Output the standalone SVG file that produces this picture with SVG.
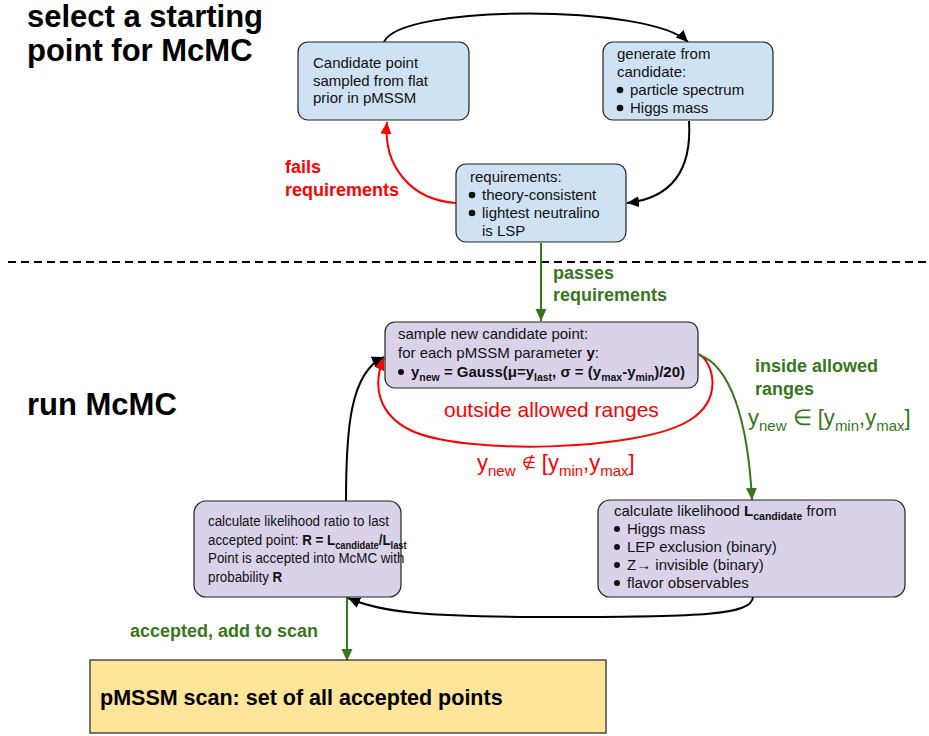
<svg xmlns="http://www.w3.org/2000/svg" width="929" height="736" viewBox="0 0 929 736">
<style>
text{font-family:"Liberation Sans",Arial,sans-serif;}
.box{stroke:#222;stroke-width:1.2;}
.blue{fill:#cfe2f3;}
.lav{fill:#d9d2e9;}
.t15{font-size:15px;fill:#111;}
.b{font-weight:bold;}
.dot{fill:#111;}
.title{font-size:31px;font-weight:bold;fill:#000;}
.red{fill:#ff0000;}
.grn{fill:#38761d;}
.sub{font-size:10.5px;}
.lbl{font-size:18px;font-weight:bold;}
.c{fill:none;stroke-width:2;}
</style>
<defs>
<marker id="ak" markerUnits="userSpaceOnUse" markerWidth="14" markerHeight="12" refX="12" refY="5.5" orient="auto"><path d="M0,0 L12,5.5 L0,11 Z" fill="#000"/></marker>
<marker id="ar" markerUnits="userSpaceOnUse" markerWidth="14" markerHeight="12" refX="12" refY="5.5" orient="auto"><path d="M0,0 L12,5.5 L0,11 Z" fill="#ff0000"/></marker>
<marker id="ag" markerUnits="userSpaceOnUse" markerWidth="14" markerHeight="12" refX="12" refY="5.5" orient="auto"><path d="M0,0 L12,5.5 L0,11 Z" fill="#38761d"/></marker>
</defs>
<rect width="929" height="736" fill="#fff"/>

<g id="titles">
<text class="title" x="27" y="27">select a starting</text>
<text class="title" x="27" y="61">point for McMC</text>
<text class="title" x="27" y="415">run McMC</text>
</g>

<line id="divider" x1="8" y1="262" x2="929" y2="262" stroke="#000" stroke-width="2" stroke-dasharray="8,5"/>

<g id="connectors">
<path class="c" stroke="#000" d="M384,42 C400,4 650,4 688,42" marker-end="url(#ak)"/>
<path class="c" stroke="#000" d="M689,121 C692,170 672,198 627,203" marker-end="url(#ak)"/>
<path class="c" stroke="#ff0000" d="M456,203 C410,200 383,165 387,122" marker-end="url(#ar)"/>
<path class="c" stroke="#38761d" d="M541,243 L541,321" marker-end="url(#ag)"/>
<path class="c" stroke="#ff0000" d="M699,354 C715,365 722,400 690,420 C640,452 460,455 410,430 C378,414 372,385 384,358" marker-end="url(#ar)"/>
<path class="c" stroke="#38761d" d="M699,355 C730,365 748,420 752,500" marker-end="url(#ag)"/>
<path class="c" stroke="#000" d="M346,501 C346,430 350,372 384,357" marker-end="url(#ak)"/>
<path class="c" stroke="#000" d="M753,597 C752,615 700,617 560,617 C420,617 380,612 348,598" marker-end="url(#ak)"/>
<path class="c" stroke="#38761d" d="M347,597 L347,661" marker-end="url(#ag)"/>
</g>

<g id="labels">
<text class="red lbl" x="285" y="173">fails</text>
<text class="red lbl" x="285" y="196">requirements</text>
<text class="grn lbl" x="553" y="279">passes</text>
<text class="grn lbl" x="553" y="301">requirements</text>
<text class="grn lbl" x="755" y="372">inside allowed</text>
<text class="grn lbl" x="755" y="395">ranges</text>
<text class="grn" x="748" y="425" font-size="22">y<tspan font-size="15" dy="6">new</tspan><tspan dy="-6"> ∈ [y</tspan><tspan font-size="15" dy="6">min</tspan><tspan dy="-6">,y</tspan><tspan font-size="15" dy="6">max</tspan><tspan dy="-6">]</tspan></text>
<text class="red" x="444" y="417" font-size="21">outside allowed ranges</text>
<text class="red" x="477" y="470" font-size="22">y<tspan font-size="15" dy="6">new</tspan><tspan dy="-6"> </tspan><tspan font-size="16" dy="-2">∉</tspan><tspan dy="2"> [y</tspan><tspan font-size="15" dy="6">min</tspan><tspan dy="-6">,y</tspan><tspan font-size="15" dy="6">max</tspan><tspan dy="-6">]</tspan></text>
<text class="grn lbl" x="130" y="637">accepted, add to scan</text>
</g>

<g id="node-candidate">
<rect class="box blue" x="298" y="42" width="171" height="78" rx="10"/>
<text class="t15" x="313" y="68">Candidate point</text>
<text class="t15" x="313" y="86">sampled from flat</text>
<text class="t15" x="313" y="103">prior in pMSSM</text>
</g>

<g id="node-generate">
<rect class="box blue" x="603" y="42" width="170" height="78" rx="10"/>
<text class="t15" x="617" y="59">generate from</text>
<text class="t15" x="617" y="77">candidate:</text>
<circle class="dot" cx="620" cy="90" r="3.3"/>
<text class="t15" x="630" y="95">particle spectrum</text>
<circle class="dot" cx="620" cy="108" r="3.3"/>
<text class="t15" x="630" y="113">Higgs mass</text>
</g>

<g id="node-requirements">
<rect class="box blue" x="456" y="164" width="170" height="78" rx="10"/>
<text class="t15" x="470" y="182">requirements:</text>
<circle class="dot" cx="472" cy="195" r="3.3"/>
<text class="t15" x="482" y="200">theory-consistent</text>
<circle class="dot" cx="472" cy="213" r="3.3"/>
<text class="t15" x="482" y="218">lightest neutralino</text>
<text class="t15" x="482" y="236">is LSP</text>
</g>

<g id="node-sample">
<rect class="box lav" x="385" y="322" width="313" height="66" rx="10"/>
<text class="t15" x="398" y="339">sample new candidate point:</text>
<text class="t15" x="398" y="358">for each pMSSM parameter <tspan class="b">y</tspan>:</text>
<circle class="dot" cx="401" cy="372" r="3"/>
<text class="t15 b" x="411" y="377">y<tspan class="sub" dy="4">new</tspan><tspan dy="-4"> = Gauss(μ=y</tspan><tspan class="sub" dy="4">last</tspan><tspan dy="-4">, σ = (y</tspan><tspan class="sub" dy="4">max</tspan><tspan dy="-4">-y</tspan><tspan class="sub" dy="4">min</tspan><tspan dy="-4">)/20)</tspan></text>
</g>

<g id="node-ratio">
<rect class="box lav" x="194" y="501" width="207" height="96" rx="12"/>
<g transform="translate(208,0) scale(0.89,1)">
<text class="t15" x="0" y="526">calculate likelihood ratio to last</text>
<text class="t15" x="0" y="545">accepted point: <tspan class="b">R = L</tspan><tspan class="b sub" dy="4">candidate</tspan><tspan class="b" dy="-4">/L</tspan><tspan class="b sub" dy="4">last</tspan></text>
<text class="t15" x="0" y="563">Point is accepted into McMC with</text>
<text class="t15" x="0" y="582">probability <tspan class="b">R</tspan></text>
</g>
</g>

<g id="node-likelihood">
<rect class="box lav" x="598" y="500" width="307" height="97" rx="12"/>
<text class="t15" x="614" y="516">calculate likelihood <tspan class="b">L</tspan><tspan class="b sub" dy="4">candidate</tspan><tspan dy="-4"> from</tspan></text>
<circle class="dot" cx="617" cy="529" r="3"/>
<text class="t15" x="627" y="534">Higgs mass</text>
<circle class="dot" cx="617" cy="547" r="3"/>
<text class="t15" x="627" y="552">LEP exclusion (binary)</text>
<circle class="dot" cx="617" cy="565" r="3"/>
<text class="t15" x="627" y="570">Z→ invisible (binary)</text>
<circle class="dot" cx="617" cy="583" r="3"/>
<text class="t15" x="627" y="588">flavor observables</text>
</g>

<g id="node-scan">
<rect x="90" y="660" width="516" height="73" fill="#ffe599" stroke="#222" stroke-width="1.2"/>
<text x="100" y="705" font-size="21.5" font-weight="bold" fill="#000">pMSSM scan: set of all accepted points</text>
</g>
</svg>
